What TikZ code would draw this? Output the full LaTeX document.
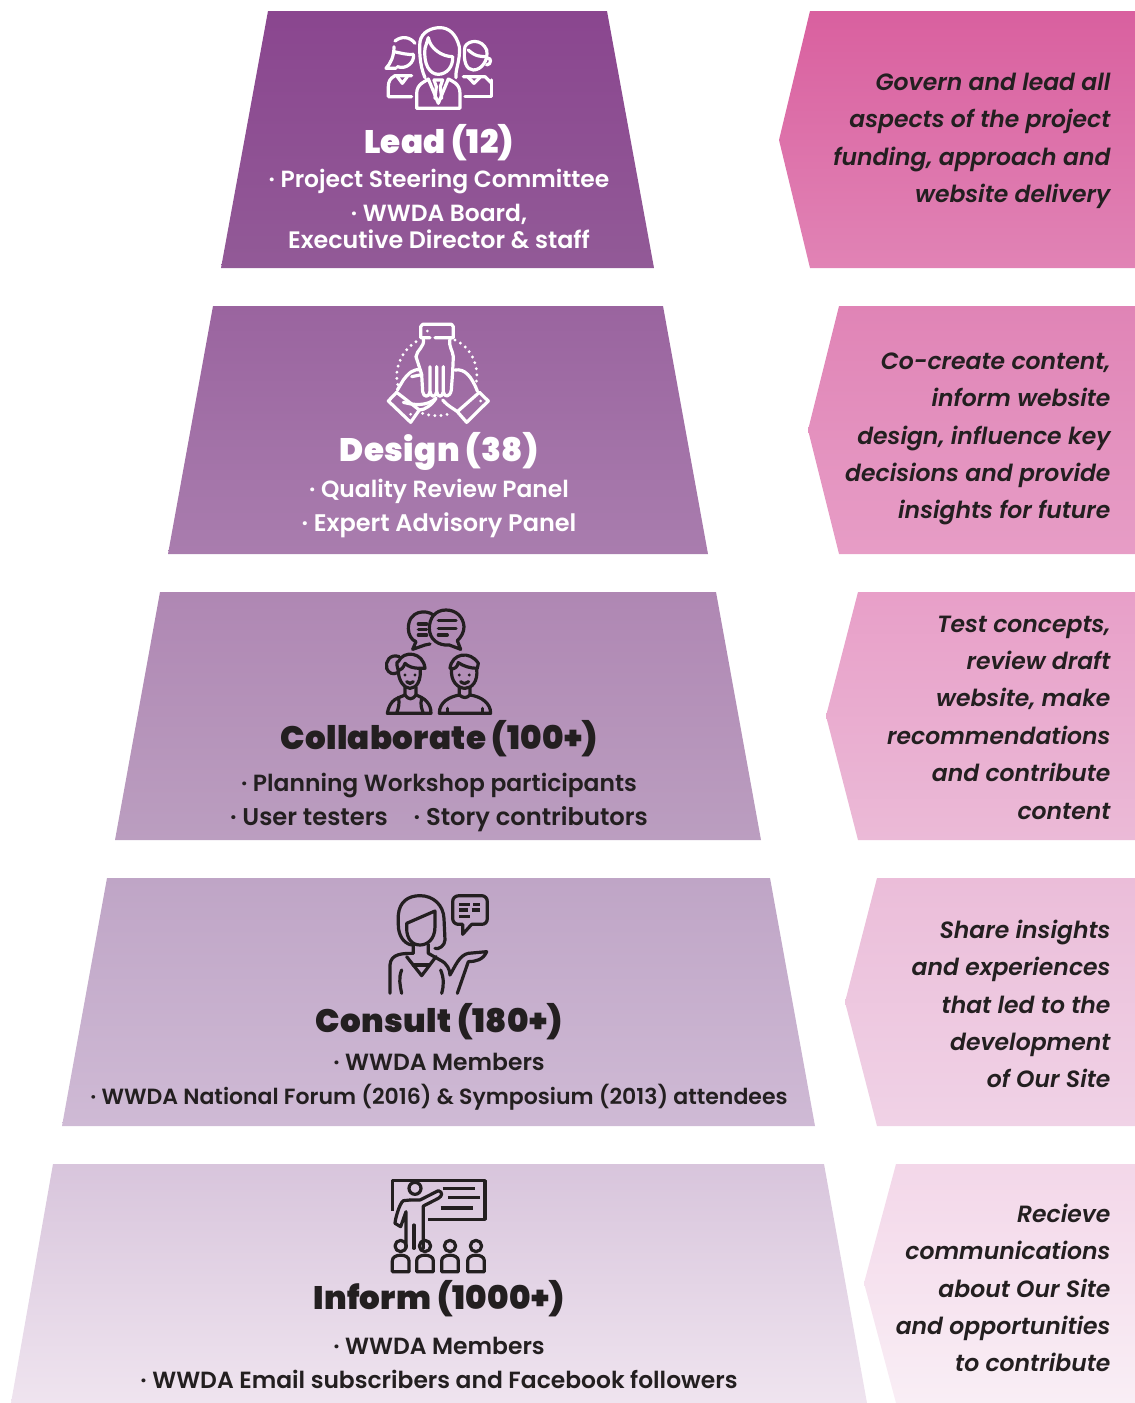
\documentclass[tikz,border=0pt]{standalone}
\usepackage{fontspec}
\setmainfont{Poppins}[UprightFont=* SemiBold,ItalicFont=* SemiBold Italic]
\newfontfamily\hdfont{Poppins}[UprightFont=* Black,LetterSpace=1]
\newcommand\band[3]{\path[top color=#1,bottom color=#2] #3;}
\definecolor{inkc}{HTML}{231F20}
\definecolor{la}{HTML}{8A468F}\definecolor{lb}{HTML}{925A97}
\definecolor{lc}{HTML}{9A649F}\definecolor{ld}{HTML}{A97DAE}
\definecolor{le}{HTML}{AF87B3}\definecolor{lf}{HTML}{BB9EC0}
\definecolor{lg}{HTML}{BFA5C6}\definecolor{lh}{HTML}{CFBAD5}
\definecolor{li}{HTML}{D8C5DC}\definecolor{lj}{HTML}{EFE4EF}
\definecolor{ra}{HTML}{D9609F}\definecolor{rb}{HTML}{E183B5}
\definecolor{rc}{HTML}{E084B6}\definecolor{rd}{HTML}{E79DC6}
\definecolor{re}{HTML}{E89FC8}\definecolor{rf}{HTML}{EBBAD7}
\definecolor{rg}{HTML}{EBBDD9}\definecolor{rh}{HTML}{F0D2E6}
\definecolor{ri}{HTML}{F3D7E9}\definecolor{rj}{HTML}{F9EEF5}
\tikzset{
 headt/.style={anchor=base,font=\hdfont\fontsize{32.5}{33}\selectfont},
 bodyt/.style={anchor=base,font=\fontsize{#1}{28}\selectfont},
 bodyt/.default=23.4,
 sidet/.style={anchor=east,align=right,text=inkc,font=\fontsize{23.5}{37.4}\selectfont\itshape},
 icon/.style={line width=3.2pt,line cap=round,line join=round,draw=#1},
}
\begin{document}
\begin{tikzpicture}[x=1pt,y=-1pt]
\useasboundingbox (0,0) rectangle (1135,1403);
\band{la}{lb}{(268,11)--(607,11)--(654,268)--(221,268)--cycle}
\band{lc}{ld}{(213,306)--(663,306)--(708,554)--(168,554)--cycle}
\band{le}{lf}{(160,592)--(716,592)--(761,840)--(115,840)--cycle}
\band{lg}{lh}{(107,878)--(770,878)--(815,1126)--(62,1126)--cycle}
\band{li}{lj}{(53,1164)--(824,1164)--(867,1403)--(11,1403)--cycle}
\band{ra}{rb}{(810,11)--(1135,11)--(1135,268)--(810,268)--(779,140)--cycle}
\band{rc}{rd}{(839,306)--(1135,306)--(1135,554)--(839,554)--(808,430)--cycle}
\band{re}{rf}{(858,592)--(1135,592)--(1135,840)--(858,840)--(826,716)--cycle}
\band{rg}{rh}{(877,878)--(1135,878)--(1135,1126)--(877,1126)--(845,1002)--cycle}
\band{ri}{rj}{(896,1164)--(1135,1164)--(1135,1403)--(896,1403)--(864,1283)--cycle}
% Texts
\node[headt,text=white] (h1) at (439,153) {Lead (12)};
\node[bodyt,text=white] (b11) at (439,187) {· Project Steering Committee};
\node[bodyt,text=white] (b12) at (439,221) {· WWDA Board,};
\node[bodyt=23.8,text=white] (b13) at (439,248) {Executive Director \& staff};
\node[headt,text=white] (h2) at (439,461) {Design (38)};
\node[bodyt,text=white] (b21) at (439,497) {· Quality Review Panel};
\node[bodyt=24,text=white] (b22) at (439,531) {· Expert Advisory Panel};
\node[headt,text=inkc] (h3) at (439,749) {Collaborate (100+)};
\node[bodyt,text=inkc] (b31) at (439,791) {· Planning Workshop participants};
\node[bodyt=24.2,text=inkc] (b32) at (439,825) {· User testers\hspace{26pt}· Story contributors};
\node[headt,text=inkc] (h4) at (439,1032) {Consult (180+)};
\node[bodyt,text=inkc] (b41) at (439,1070) {· WWDA Members};
\node[bodyt=22,text=inkc] (b42) at (439,1104) {· WWDA National Forum (2016) \& Symposium (2013) attendees};
\node[headt,text=inkc] (h5) at (439,1309) {Inform (1000+)};
\node[bodyt,text=inkc] (b51) at (439,1354) {· WWDA Members};
\node[bodyt,text=inkc] (b52) at (439,1388) {· WWDA Email subscribers and Facebook followers};
\node[sidet] (s1) at (1114,141) {Govern and lead all\\aspects of the project\\funding, approach and\\website delivery};
\node[sidet] (s2) at (1114,439) {Co-create content,\\inform website\\design, influence key\\decisions and provide\\insights for future};
\node[sidet] (s3) at (1114,717.5) {Test concepts,\\review draft\\website, make\\recommendations\\and contribute\\content};
\node[sidet] (s4) at (1114,1004) {Share insights\\and experiences\\that led to the\\development\\of Our Site};
\node[sidet] (s5) at (1114,1288) {Recieve\\communications\\about Our Site\\and opportunities\\to contribute};
% Icon 1: lead
\begin{scope}[shift={(370,15)},x=0.3333pt,y=-0.3333pt,icon=white]
\draw (165,188) .. controls (148,150) and (148,100) .. (150,80) .. controls (155,50) and (185,38) .. (210,38) .. controls (235,38) and (258,55) .. (268,95) .. controls (272,135) and (255,165) .. (258,188);
\draw (175,68) .. controls (180,100) and (215,125) .. (248,125) .. controls (250,155) and (230,178) .. (205,178) .. controls (180,178) and (160,150) .. (165,100) -- (175,68);
\draw (140,280) -- (140,235) .. controls (140,205) and (170,198) .. (175,192) -- (205,265) -- (235,192) .. controls (245,198) and (270,205) .. (270,235) -- (270,280) -- cycle;
\draw (192,195) -- (218,195) -- (211,215) -- (215,250);
\draw (192,195) -- (199,215) -- (195,250);
\draw (75,78) .. controls (95,62) and (120,65) .. (135,85);
\draw (72,95) .. controls (72,125) and (62,145) .. (48,160) -- (78,160) ;
\draw (72,110) .. controls (95,115) and (115,120) .. (130,118) .. controls (135,140) and (110,165) .. (82,155);
\draw (125,182) -- (75,182) .. controls (60,190) and (55,200) .. (55,215) -- (55,245) -- (125,245);
\draw (82,185) -- (97,205) -- (112,185);
\draw (285,95) .. controls (295,75) and (335,70) .. (350,105) .. controls (356,135) and (335,165) .. (310,165) .. controls (290,165) and (278,140) .. (285,95);
\draw (295,105) .. controls (315,125) and (335,125) .. (350,125);
\draw (352,130) .. controls (365,125) and (365,150) .. (350,150);
\draw (280,185) -- (345,185) -- (365,205) ;
\draw (285,245) -- (365,245) -- (365,195);
\draw (295,187) -- (312,205) -- (330,187);
\end{scope}
% Icon 2: hands
\begin{scope}[shift={(370,315)},x=0.3333pt,y=-0.3333pt,icon=white]
\draw (195,68) -- (250,68) -- (250,35) -- (245,28) -- (158,28) -- (152,35) -- (152,68) -- (180,68);
\draw (160,72) .. controls (165,95) and (140,105) .. (138,125) -- (155,178) -- (158,230) .. controls (160,248) and (178,248) .. (180,230) -- (180,155);
\draw (180,230) .. controls (182,248) and (198,248) .. (200,230) -- (200,155);
\draw (200,230) .. controls (202,248) and (218,248) .. (220,230) -- (220,155);
\draw (220,230) .. controls (222,248) and (240,248) .. (244,225) -- (248,170) -- (250,125) .. controls (248,105) and (235,95) .. (240,72);
\draw (152,165) .. controls (130,160) and (115,175) .. (100,195) -- (82,225);
\draw (150,180) -- (125,185);
\draw (55,258) -- (80,232) -- (148,285) -- (122,322) -- cycle;
\draw (100,262) .. controls (130,270) and (170,275) .. (198,250);
\draw (148,285) .. controls (165,285) and (185,270) .. (198,250);
\draw (255,165) .. controls (285,160) and (305,185) .. (322,228);
\draw (355,258) -- (328,232) -- (262,290) -- (290,322) -- cycle;
\draw (218,255) .. controls (235,275) and (250,280) .. (262,290);
\fill[white] (172,48) circle (4.5) (122,298) circle (4.5) (332,258) circle (4.5);
\draw[dash pattern=on 0pt off 6.2pt,line width=3.2pt] (138,80) .. controls (90,110) and (70,170) .. (85,215);
\draw[dash pattern=on 0pt off 6.2pt,line width=3.2pt] (255,75) .. controls (300,95) and (330,150) .. (318,205);
\draw[dash pattern=on 0pt off 6.2pt,line width=3.2pt] (158,295) .. controls (185,305) and (225,305) .. (248,292);
\end{scope}
% Icon 3: collaborate
\begin{scope}[shift={(370,600)},x=0.3333pt,y=-0.3333pt,icon=inkc]
\draw (190,45) .. controls (170,28) and (115,30) .. (115,85) .. controls (115,105) and (125,120) .. (138,125) -- (128,148) -- (165,135) -- (180,132);
\draw (228,30) .. controls (195,30) and (178,55) .. (178,85) .. controls (178,118) and (205,138) .. (238,135) -- (272,148) -- (262,122) .. controls (275,110) and (282,95) .. (282,80) .. controls (280,50) and (258,30) .. (228,30) -- cycle;
\draw (205,62) -- (258,62) (205,85) -- (258,85) (205,105) -- (232,105);
\draw (145,72) -- (170,72) (145,88) -- (170,88) (145,105) -- (170,105);
% left person
\draw (88,170) .. controls (60,160) and (45,185) .. (50,205) .. controls (55,220) and (70,225) .. (82,218);
\draw (85,185) .. controls (100,150) and (160,155) .. (165,205) -- (150,205) .. controls (130,205) and (115,200) .. (105,190) .. controls (100,205) and (92,210) .. (85,212) .. controls (75,180) and (85,185) .. (85,185);
\draw (85,212) .. controls (85,245) and (105,265) .. (120,265) .. controls (140,265) and (155,240) .. (150,205);
\draw (105,262) -- (105,285) .. controls (85,295) and (60,295) .. (52,340) -- (183,340) .. controls (183,310) and (165,295) .. (138,285) -- (138,262);
\draw (85,292) .. controls (90,310) and (85,325) .. (80,340) (155,295) .. controls (150,315) and (155,325) .. (160,340);
\draw (105,285) .. controls (115,300) and (128,300) .. (138,285);
\fill[inkc] (105,225) circle (5) (135,225) circle (5);
\draw (110,245) .. controls (115,252) and (125,252) .. (130,245);
% right person
\draw (240,205) .. controls (245,160) and (300,150) .. (325,190) -- (322,205) .. controls (300,205) and (280,198) .. (265,188) .. controls (262,200) and (255,210) .. (240,205);
\draw (245,205) .. controls (240,245) and (265,265) .. (285,265) .. controls (305,265) and (325,245) .. (320,205);
\draw (268,262) -- (268,285) .. controls (240,290) and (208,305) .. (208,340) -- (362,340) .. controls (362,310) and (335,290) .. (300,285) -- (300,262);
\draw (268,285) .. controls (280,295) and (290,295) .. (300,285);
\draw (232,325) -- (232,340) (338,325) -- (338,340);
\fill[inkc] (268,225) circle (5) (298,225) circle (5);
\draw (272,245) .. controls (280,252) and (290,252) .. (296,245);
\end{scope}
% Icon 4: consult
\begin{scope}[shift={(370,885)},x=0.3333pt,y=-0.3333pt,icon=inkc]
\draw (125,180) .. controls (100,175) and (85,150) .. (85,120) -- (85,90) .. controls (88,50) and (115,32) .. (150,32) .. controls (190,32) and (220,60) .. (222,100) -- (225,165) .. controls (225,182) and (205,195) .. (195,190);
\draw (110,115) -- (195,78) -- (195,125) .. controls (195,165) and (170,180) .. (150,180) .. controls (125,180) and (110,160) .. (110,130) -- cycle;
\draw (130,178) -- (130,205) .. controls (100,205) and (62,205) .. (60,240) -- (60,325);
\draw (175,178) -- (175,205) -- (210,225) .. controls (232,235) and (240,255) .. (240,270) .. controls (255,245) and (268,210) .. (295,205) -- (350,200) .. controls (340,225) and (315,230) .. (295,230) -- (262,325);
\draw (110,215) -- (155,272) -- (198,215);
\draw (130,240) -- (175,240);
\draw (95,255) .. controls (85,280) and (90,300) .. (95,325);
\draw (212,255) .. controls (222,280) and (222,300) .. (215,325);
\draw (268,32) -- (335,32) .. controls (345,32) and (352,40) .. (352,50) -- (352,100) .. controls (352,112) and (345,118) .. (335,118) -- (305,118) -- (278,148) -- (278,118) -- (265,118) .. controls (255,118) and (248,110) .. (248,100) -- (248,50) .. controls (248,40) and (255,32) .. (268,32) -- cycle;
\draw[line cap=butt] (268,58) -- (300,58) (310,58) -- (330,58) (268,75) -- (295,75) (305,75) -- (330,75) (268,95) -- (300,95);
\end{scope}
% Icon 5: inform
\begin{scope}[shift={(370,1170)},x=0.3333pt,y=-0.3333pt,icon=inkc]
\draw[line cap=butt] (68,122) -- (68,32) -- (345,32) -- (345,148) -- (175,148);
\draw[line cap=butt] (218,56) -- (315,56) (235,83) -- (330,83) (212,114) -- (310,114);
\draw (135,55) circle (18);
\draw (120,90) -- (100,92) .. controls (88,100) and (75,150) .. (75,160) -- (92,170) -- (108,125) -- (108,235);
\draw (120,90) -- (150,90) -- (205,62) .. controls (218,65) and (218,78) .. (205,85) -- (160,108) -- (160,235);
\draw (132,165) -- (132,235);
\foreach \c in {92,165,240,318}{
 \draw (\c,228) circle (17);
 \draw (\c-25,305) -- (\c-25,272) .. controls (\c-25,250) and (\c+25,250) .. (\c+25,272) -- (\c+25,305) -- cycle;
}
\end{scope}
\end{tikzpicture}
\end{document}
